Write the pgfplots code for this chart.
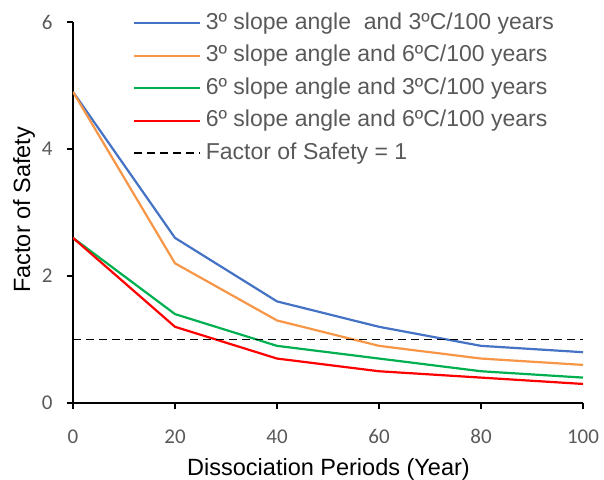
\documentclass[border=0pt]{standalone}
\usepackage{fontspec}
\setmainfont{Liberation Sans}
\newfontfamily\carlito{Carlito}
\usepackage{pgfplots}
\pgfplotsset{compat=1.18}

\definecolor{sblue}{HTML}{4472C4}
\definecolor{sorange}{HTML}{F79646}
\definecolor{sgreen}{HTML}{00B050}
\definecolor{sred}{HTML}{FF0000}
\definecolor{txtgray}{HTML}{595959}

\begin{document}
\begin{tikzpicture}
\path[use as bounding box] (-73bp,-77bp) rectangle (531bp,403bp);
\begin{axis}[
    scale only axis,
    width=510bp, height=381bp,
    xmin=0, xmax=100, ymin=0, ymax=6,
    axis lines*=left,
    axis line style={black, line width=1.2bp},
    xtick={0,20,...,100},
    ytick={0,2,4,6},
    minor tick num=0,
    tick align=outside,
    major tick length=6bp,
    tick style={black, line width=1.2bp},
    /pgf/number format/assume math mode=true,
    tick label style={font=\carlito\fontsize{21bp}{25bp}\selectfont, text=txtgray},
    xticklabel style={anchor=north, yshift=-17bp},
    yticklabel style={anchor=east, xshift=-11bp},
    xlabel={Dissociation Periods (Year)},
    ylabel={Factor of Safety},
    label style={font=\fontsize{23.5bp}{28bp}\selectfont, text=black},
    xlabel style={at={(rel axis cs:0.501,0)}, anchor=base, yshift=-72bp},
    ylabel style={at={(rel axis cs:-0.0843,0.507)}, anchor=base},
    legend style={
        at={(rel axis cs:0.1176,1.026)}, anchor=north west,
        draw=none, fill=none, inner sep=0pt, row sep=10.5bp,
        font=\fontsize{23bp}{27bp}\selectfont, text=txtgray,
        nodes={inner xsep=4.5bp, inner ysep=0pt, text height=17bp, text depth=5bp},
    },
    legend cell align=left,
    legend image code/.code={\draw[#1] (0bp,0bp) -- (66bp,0bp);},
]
\addplot[sblue, line width=2.2bp] coordinates {(0,4.9)(20,2.6)(40,1.6)(60,1.2)(80,0.9)(100,0.8)};
\addlegendentry{3º slope angle~ and 3ºC/100 years}
\addplot[sorange, line width=2.2bp] coordinates {(0,4.9)(20,2.2)(40,1.3)(60,0.9)(80,0.7)(100,0.6)};
\addlegendentry{3º slope angle and 6ºC/100 years}
\addplot[sgreen, line width=2.2bp] coordinates {(0,2.6)(20,1.4)(40,0.9)(60,0.7)(80,0.5)(100,0.4)};
\addlegendentry{6º slope angle and 3ºC/100 years}
\addplot[sred, line width=2.2bp] coordinates {(0,2.6)(20,1.2)(40,0.7)(60,0.5)(80,0.4)(100,0.3)};
\addlegendentry{6º slope angle and 6ºC/100 years}
\addplot[black, line width=1.6bp, dash pattern=on 8bp off 5bp] coordinates {(0,1)(100,1)};
\addlegendentry{Factor of Safety = 1}
\end{axis}
\end{tikzpicture}
\end{document}
